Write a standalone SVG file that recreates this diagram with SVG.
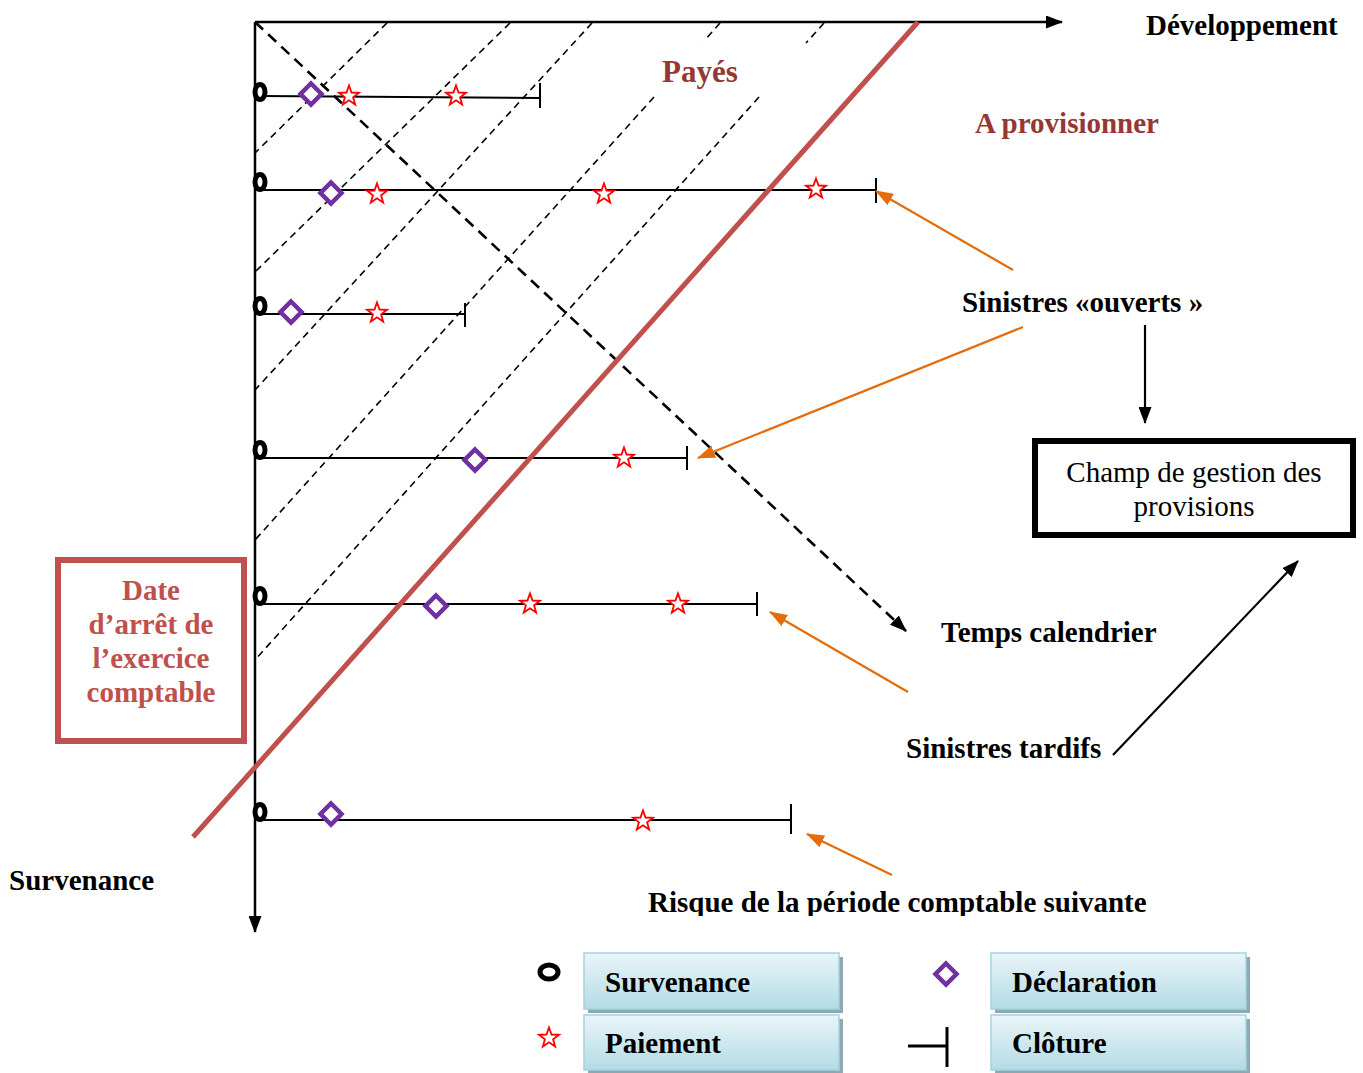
<svg xmlns="http://www.w3.org/2000/svg" width="1363" height="1073" viewBox="0 0 1363 1073">
  <defs>
    <style>
      text { font-family: "Liberation Serif", "Times New Roman", serif; }
      .b { font-weight: bold; font-size: 29px; fill: #000; }
      .brown { fill: #953735; }
      .red { fill: #c0504d; }
      .reg { font-size: 29px; fill: #000; }
      .axis { stroke: #000; stroke-width: 2.5; fill: none; }
      .grid { stroke: #000; stroke-width: 1.6; stroke-dasharray: 7 5; fill: none; }
      .cal { stroke: #000; stroke-width: 2.6; stroke-dasharray: 11 7; fill: none; }
      .row { stroke: #000; stroke-width: 2; fill: none; }
      .occ { fill: #fff; stroke: #000; stroke-width: 5; }
      .decl { fill: #fff; stroke: #7030a0; stroke-width: 4.5; }
      .pay { fill: #fff; stroke: #ff0000; stroke-width: 1.8; }
      .cut { stroke: #c0504d; stroke-width: 5; fill: none; }
      .orange { stroke: #e46c0a; stroke-width: 2.2; fill: none; }
      .blk { stroke: #000; stroke-width: 2.2; fill: none; }
      .lbox { fill: url(#lg); stroke: #a3d3e0; stroke-width: 1.5; }
      .lshadow { fill: #8fa9b3; }
    </style>
    <linearGradient id="lg" x1="0" y1="0" x2="0" y2="1">
      <stop offset="0" stop-color="#eaf5f8"/>
      <stop offset="1" stop-color="#b3dbe6"/>
    </linearGradient>
    <path id="star" d="M0,-10.5 L2.53,-3.48 L9.99,-3.24 L4.09,1.33 L6.17,8.49 L0,4.3 L-6.17,8.49 L-4.09,1.33 L-9.99,-3.24 L-2.53,-3.48 Z"/>
    <path id="diamond" d="M0,-10.5 L10.5,0 L0,10.5 L-10.5,0 Z"/>
    <marker id="hb" viewBox="0 0 17 13" refX="16" refY="6.5" markerWidth="17" markerHeight="13" markerUnits="userSpaceOnUse" orient="auto">
      <path d="M0,0 L17,6.5 L0,13 Z" fill="#000"/>
    </marker>
    <marker id="ho" viewBox="0 0 18 13" refX="17" refY="6.5" markerWidth="18" markerHeight="13" markerUnits="userSpaceOnUse" orient="auto">
      <path d="M0,0 L18,6.5 L0,13 Z" fill="#e46c0a"/>
    </marker>
    <clipPath id="clipRisk">
      <rect x="600" y="880" width="600" height="36"/>
    </clipPath>
  </defs>

  <rect x="0" y="0" width="1363" height="1073" fill="#fff"/>

  <!-- diagonal dashed guides (same reporting date) -->
  <g id="guides">
    <line class="grid" x1="387" y1="23" x2="255" y2="153"/>
    <line class="grid" x1="510" y1="23" x2="255" y2="272"/>
    <line class="grid" x1="592" y1="23" x2="255" y2="390"/>
    <line class="grid" x1="720" y1="23" x2="704" y2="41"/>
    <line class="grid" x1="654" y1="97" x2="255" y2="540"/>
    <line class="grid" x1="824" y1="23" x2="806" y2="43"/>
    <line class="grid" x1="759" y1="97" x2="255" y2="660"/>
  </g>

  <!-- claim lifelines -->
  <g id="claim1">
    <line class="row" x1="262" y1="96" x2="540" y2="98"/>
    <line class="row" x1="540" y1="83" x2="540" y2="108"/>
  </g>
  <g id="claim2">
    <line class="row" x1="262" y1="190" x2="876" y2="190"/>
    <line class="row" x1="876" y1="178" x2="876" y2="203"/>
  </g>
  <g id="claim3">
    <line class="row" x1="262" y1="314" x2="465" y2="314"/>
    <line class="row" x1="465" y1="303" x2="465" y2="327"/>
  </g>
  <g id="claim4">
    <line class="row" x1="262" y1="458" x2="687" y2="458"/>
    <line class="row" x1="687" y1="446" x2="687" y2="470"/>
  </g>
  <g id="claim5">
    <line class="row" x1="262" y1="604" x2="757" y2="604"/>
    <line class="row" x1="757" y1="592" x2="757" y2="616"/>
  </g>
  <g id="claim6">
    <line class="row" x1="262" y1="820" x2="791" y2="820"/>
    <line class="row" x1="791" y1="804" x2="791" y2="834"/>
  </g>

  <!-- connectors -->
  <g id="connectors">
    <line class="axis" x1="255" y1="22" x2="1062" y2="22" marker-end="url(#hb)"/>
    <line class="axis" x1="255" y1="22" x2="255" y2="932" marker-end="url(#hb)"/>
    <line class="cal" x1="255" y1="22" x2="906" y2="631" marker-end="url(#hb)"/>
    <line class="cut" x1="193" y1="837" x2="918" y2="22"/>
    <line class="orange" x1="1013" y1="270" x2="876" y2="191" marker-end="url(#ho)"/>
    <line class="orange" x1="1023" y1="327" x2="698" y2="458" marker-end="url(#ho)"/>
    <line class="orange" x1="908" y1="692" x2="770" y2="612" marker-end="url(#ho)"/>
    <line class="orange" x1="892" y1="875" x2="807" y2="834" marker-end="url(#ho)"/>
    <line class="blk" x1="1145" y1="325" x2="1145" y2="423" marker-end="url(#hb)"/>
    <line class="blk" x1="1113" y1="755" x2="1298" y2="561" marker-end="url(#hb)"/>
  </g>

  <!-- event symbols -->
  <g id="events">
    <ellipse class="occ" cx="260" cy="92" rx="5" ry="7.5"/>
    <use href="#diamond" class="decl" x="311" y="94"/>
    <use href="#star" class="pay" x="349" y="96"/>
    <use href="#star" class="pay" x="456" y="96"/>

    <ellipse class="occ" cx="260" cy="182" rx="5" ry="7.5"/>
    <use href="#diamond" class="decl" x="331" y="193"/>
    <use href="#star" class="pay" x="377" y="194"/>
    <use href="#star" class="pay" x="604" y="194"/>
    <use href="#star" class="pay" x="816" y="189"/>

    <ellipse class="occ" cx="260" cy="306" rx="5" ry="7.5"/>
    <use href="#diamond" class="decl" x="291" y="312"/>
    <use href="#star" class="pay" x="377" y="313"/>

    <ellipse class="occ" cx="260" cy="450" rx="5" ry="7.5"/>
    <use href="#diamond" class="decl" x="475" y="460"/>
    <use href="#star" class="pay" x="624" y="458"/>

    <ellipse class="occ" cx="260" cy="596" rx="5" ry="7.5"/>
    <use href="#diamond" class="decl" x="436" y="606"/>
    <use href="#star" class="pay" x="530" y="604"/>
    <use href="#star" class="pay" x="678" y="604"/>

    <ellipse class="occ" cx="260" cy="812" rx="5" ry="7.5"/>
    <use href="#diamond" class="decl" x="331" y="814"/>
    <use href="#star" class="pay" x="643" y="821"/>
  </g>

  <!-- labels -->
  <g id="labels">
    <text class="b" x="1146" y="35">Développement</text>
    <text class="b brown" x="662" y="82" style="font-size:31px">Payés</text>
    <text class="b brown" x="975" y="133">A provisionner</text>
    <text class="b" x="962" y="312">Sinistres «ouverts »</text>
    <text class="b" x="941" y="642">Temps calendrier</text>
    <text class="b" x="906" y="758">Sinistres tardifs</text>
    <text class="b" x="9" y="890">Survenance</text>
    <text class="b" x="648" y="912" clip-path="url(#clipRisk)">Risque de la période comptable suivante</text>
  </g>

  <g id="date-box">
    <rect x="58" y="560" width="186" height="181" fill="#fff" stroke="#c0504d" stroke-width="6"/>
    <text class="b red" text-anchor="middle" x="151" y="600">Date</text>
    <text class="b red" text-anchor="middle" x="151" y="634">d’arrêt de</text>
    <text class="b red" text-anchor="middle" x="151" y="668">l’exercice</text>
    <text class="b red" text-anchor="middle" x="151" y="702">comptable</text>
  </g>

  <g id="scope-box">
    <rect x="1035" y="441" width="318" height="94" fill="#fff" stroke="#000" stroke-width="6"/>
    <text class="reg" text-anchor="middle" x="1194" y="482">Champ de gestion des</text>
    <text class="reg" text-anchor="middle" x="1194" y="516">provisions</text>
  </g>

  <!-- legend -->
  <g id="legend-occurrence">
    <ellipse class="occ" cx="549" cy="972" rx="9" ry="7" stroke-width="5.5"/>
    <rect class="lshadow" x="588" y="957" width="255" height="56"/>
    <rect class="lbox" x="584" y="953" width="255" height="56"/>
    <text class="b" x="605" y="992">Survenance</text>
  </g>
  <g id="legend-declaration">
    <use href="#diamond" class="decl" x="946" y="974"/>
    <rect class="lshadow" x="995" y="957" width="255" height="56"/>
    <rect class="lbox" x="991" y="953" width="255" height="56"/>
    <text class="b" x="1012" y="992">Déclaration</text>
  </g>
  <g id="legend-payment">
    <use href="#star" class="pay" x="549" y="1038"/>
    <rect class="lshadow" x="588" y="1019" width="255" height="55"/>
    <rect class="lbox" x="584" y="1015" width="255" height="55"/>
    <text class="b" x="605" y="1053">Paiement</text>
  </g>
  <g id="legend-closure">
    <line x1="908" y1="1046" x2="947" y2="1046" stroke="#000" stroke-width="3"/>
    <line x1="947" y1="1027" x2="947" y2="1067" stroke="#000" stroke-width="3"/>
    <rect class="lshadow" x="995" y="1019" width="255" height="55"/>
    <rect class="lbox" x="991" y="1015" width="255" height="55"/>
    <text class="b" x="1012" y="1053">Clôture</text>
  </g>
</svg>
